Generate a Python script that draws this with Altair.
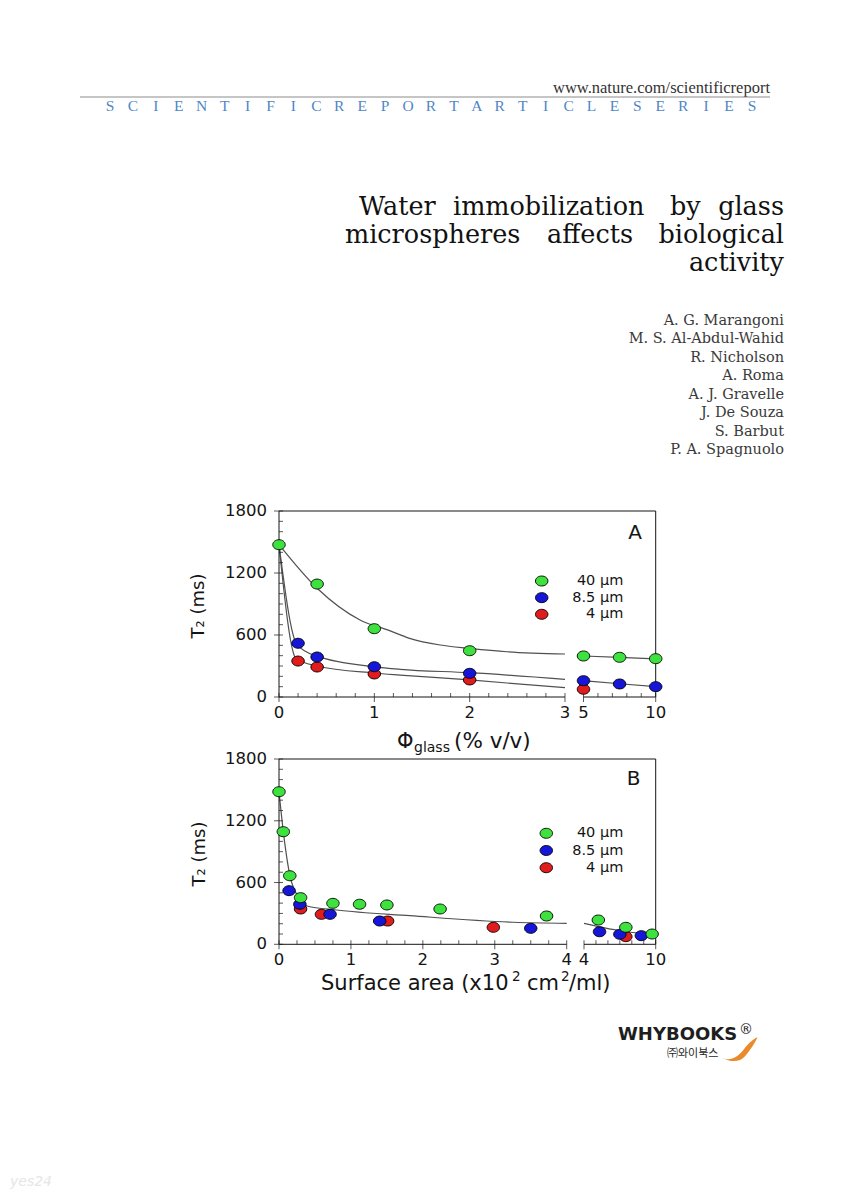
import altair as alt
import pandas as pd

# ---------------- values ----------------
SERIES = ["40 μm", "8.5 μm", "4 μm"]
SERIES_COLORS = ["#3ee23e", "#1616d8", "#e01c1c"]

# Panel A : T2 (ms) vs glass volume fraction (% v/v)
a_green_x = [0, 0.4, 1, 2, 5, 7.5, 10]
a_green_y = [1474, 1093, 661, 448, 397, 384, 371]
a_blue_x = [0.2, 0.4, 1, 2, 5, 7.5, 10]
a_blue_y = [520, 387, 293, 229, 158, 126, 100]
a_red_x = [0.2, 0.4, 1, 2, 5]
a_red_y = [348, 290, 223, 165, 75]

# drawn curves in panel A
a_fit_green_x = [0, 0.4, 0.85, 1.16, 1.37, 1.69, 2.0, 2.39, 3.0, 5, 7.5, 10]
a_fit_green_y = [1474, 1052, 745, 642, 568, 503, 471, 438, 416, 397, 384, 368]
a_fit_blue_x = [0, 0.19, 0.4, 1.0, 1.27, 2.0, 3.0, 5, 7.5, 10]
a_fit_blue_y = [1474, 505, 395, 292, 268, 235, 171, 158, 128, 100]
a_fit_red_x = [0, 0.18, 0.4, 1.0, 1.27, 2.0, 3.0]
a_fit_red_y = [1474, 370, 300, 232, 212, 165, 90]

# Panel B : T2 (ms) vs surface area (x10^2 cm2/ml)
b_green_x = [0, 0.06, 0.15, 0.30, 0.75, 1.12, 1.50, 2.24, 3.72, 5.2, 7.5, 9.7]
b_green_y = [1482, 1094, 666, 453, 398, 389, 382, 343, 275, 236, 165, 100]
b_blue_x = [0.14, 0.29, 0.71, 1.40, 3.50, 5.3, 7.0, 8.8]
b_blue_y = [521, 389, 291, 226, 155, 122, 97, 84]
b_red_x = [0.30, 0.59, 1.51, 2.98, 7.5]
b_red_y = [343, 291, 226, 165, 74]

b_fit_x = [0, 0.06, 0.15, 0.29, 0.39, 0.8, 1.82, 3.26, 4.0, 4.0, 7.6, 10]
b_fit_y = [1482, 1094, 673, 440, 372, 333, 278, 214, 204, 204, 122, 97]
b_fit_part = ["l", "l", "l", "l", "l", "l", "l", "l", "l", "r", "r", "r"]

# axis ticks / labels
Y_TICKS = [0, 600, 1200, 1800]
Y_MINOR = list(range(0, 1801, 100))
A_LEFT_TICKS = [0, 1, 2, 3]
A_LEFT_MINOR = [round(i * 0.2, 2) for i in range(16)]
A_RIGHT_TICKS = [5, 10]
A_RIGHT_MINOR = [5, 6, 7, 8, 9, 10]
B_LEFT_TICKS = [0, 1, 2, 3, 4]
B_LEFT_MINOR = [i * 0.25 for i in range(17)]
B_RIGHT_TICKS = [4, 10]
B_RIGHT_MINOR = [4, 5, 6, 7, 8, 9, 10]

# page texts
URL = "www.nature.com/scientificreport"
SERIES_BANNER = "SCIENTIFICREPORTARTICLESERIES"
AUTHORS = ["A. G. Marangoni", "M. S. Al-Abdul-Wahid", "R. Nicholson", "A. Roma",
           "A. J. Gravelle", "J. De Souza", "S. Barbut", "P. A. Spagnuolo"]

# ---------------- layout ----------------
W, H = 833, 1184          # whole page minus the 8px body margin
def px(v):                # page pixel -> chart pixel
    return v - 8

INK = "#141414"
LINE = "#505050"
SANS = "DejaVu Sans"
SERIF = "DejaVu Serif"
ELL = "M-1,0A1,0.8,0,1,1,1,0A1,0.8,0,1,1,-1,0Z"
color_scale = alt.Scale(domain=SERIES, range=SERIES_COLORS)
one = pd.DataFrame({"a": [0]})


def pts_frame(xs, ys, s):
    return pd.DataFrame({"x": xs, "y": ys, "s": s})


def panel(xdom, xr, yr, pts, fit, xvals, xminor, show_y, top_to=None, right_rule=False):
    xs = alt.Scale(domain=xdom, range=[px(xr[0]), px(xr[1])], nice=False, zero=False)
    ys = alt.Scale(domain=[0, 1800], range=[px(yr[0]), px(yr[1])], nice=False, zero=False)
    X0 = alt.XDatum(xdom[0], type="quantitative", scale=xs, axis=None)
    Y0 = alt.YDatum(0, type="quantitative", scale=ys, axis=None)
    layers = []
    # fitted curves
    layers.append(
        alt.Chart(fit).mark_line(color=LINE, strokeWidth=1.2, interpolate="monotone").encode(
            x=alt.X("x:Q", scale=xs, axis=None),
            y=alt.Y("y:Q", scale=ys, axis=None),
            detail="s:N"))
    # x axis line
    layers.append(alt.Chart(one).mark_rule(color=INK, strokeWidth=1).encode(
        x=X0, x2=alt.X2Datum(xdom[1]), y=Y0))
    # x minor ticks (inward) and major ticks (outward)
    layers.append(
        alt.Chart(pd.DataFrame({"v": xminor})).mark_tick(
            orient="vertical", size=4, thickness=1, color=INK, yOffset=-2).encode(
            x=alt.X("v:Q", scale=xs, axis=None), y=Y0))
    layers.append(
        alt.Chart(pd.DataFrame({"v": xvals})).mark_tick(
            orient="vertical", size=5, thickness=1, color=INK, yOffset=2.5).encode(
            x=alt.X("v:Q", scale=xs, axis=None), y=Y0))
    layers.append(
        alt.Chart(pd.DataFrame({"v": xvals})).mark_text(
            baseline="top", align="center", dy=8, font=SANS, fontSize=16.5, color=INK).encode(
            x=alt.X("v:Q", scale=xs, axis=None), y=Y0,
            text=alt.Text("v:Q", format="d")))
    if show_y:
        layers.append(alt.Chart(one).mark_rule(color=INK, strokeWidth=1).encode(
            x=X0, y=Y0, y2=alt.Y2Datum(1800)))
        layers.append(
            alt.Chart(pd.DataFrame({"v": Y_MINOR})).mark_tick(
                orient="horizontal", size=4, thickness=1, color=INK, xOffset=2).encode(
                x=X0, y=alt.Y("v:Q", scale=ys, axis=None)))
        layers.append(
            alt.Chart(pd.DataFrame({"v": Y_TICKS})).mark_tick(
                orient="horizontal", size=5, thickness=1, color=INK, xOffset=-2.5).encode(
                x=X0, y=alt.Y("v:Q", scale=ys, axis=None)))
        layers.append(
            alt.Chart(pd.DataFrame({"v": Y_TICKS})).mark_text(
                baseline="middle", align="right", dx=-12, font=SANS, fontSize=16.5,
                color=INK).encode(
                x=X0, y=alt.Y("v:Q", scale=ys, axis=None),
                text=alt.Text("v:Q", format="d")))
    if top_to is not None:
        layers.append(
            alt.Chart(one).mark_rule(color=INK, strokeWidth=1).encode(
                x=X0, x2=alt.value(px(top_to)),
                y=alt.YDatum(1800, type="quantitative", scale=ys, axis=None)))
    if right_rule:
        layers.append(
            alt.Chart(one).mark_rule(color=INK, strokeWidth=1).encode(
                x=alt.XDatum(xdom[1], type="quantitative", scale=xs, axis=None),
                y=Y0, y2=alt.Y2Datum(1800)))
    # data points
    layers.append(
        alt.Chart(pts).mark_point(shape=ELL, size=156, filled=True, opacity=1,
                                  stroke="black", strokeWidth=0.9).encode(
            x=alt.X("x:Q", scale=xs, axis=None),
            y=alt.Y("y:Q", scale=ys, axis=None),
            color=alt.Color("s:N", scale=color_scale, legend=None)))
    return alt.layer(*layers)


def legend(xsym, ytop, ybot, xtext):
    df = pd.DataFrame({"s": SERIES, "i": [0, 1, 2]})
    ysc = alt.Scale(domain=[0, 2], range=[px(ytop), px(ybot)], nice=False, zero=False)
    sym = alt.Chart(df).mark_point(shape=ELL, size=156, filled=True, opacity=1,
                                   stroke="black", strokeWidth=0.9).encode(
        x=alt.value(px(xsym)), y=alt.Y("i:Q", scale=ysc, axis=None),
        color=alt.Color("s:N", scale=color_scale, legend=None))
    txt = alt.Chart(df).mark_text(align="right", baseline="middle", font=SANS,
                                  fontSize=14.5, color=INK).encode(
        x=alt.value(px(xtext)), y=alt.Y("i:Q", scale=ysc, axis=None), text="s:N")
    return alt.layer(sym, txt)


def text(t, x, y, size, font=SANS, align="left", baseline="alphabetic", color=INK,
         angle=0, weight="normal", style="normal"):
    return alt.Chart(pd.DataFrame({"t": [t]})).mark_text(
        align=align, baseline=baseline, font=font, fontSize=size, color=color,
        angle=angle, fontWeight=weight, fontStyle=style).encode(
        x=alt.value(px(x)), y=alt.value(px(y)), text="t:N")


# ---------------- data frames ----------------
def split(xs, ys, s, xmax):
    d = pts_frame(xs, ys, s)
    return d[d.x <= xmax], d[d.x > xmax]

a_parts = [split(a_red_x, a_red_y, SERIES[2], 3), split(a_blue_x, a_blue_y, SERIES[1], 3),
           split(a_green_x, a_green_y, SERIES[0], 3)]
a_pts_l = pd.concat([p[0] for p in a_parts])
a_pts_r = pd.concat([p[1] for p in a_parts])
a_fit = pd.concat([pts_frame(a_fit_green_x, a_fit_green_y, "g"),
                   pts_frame(a_fit_blue_x, a_fit_blue_y, "b"),
                   pts_frame(a_fit_red_x, a_fit_red_y, "r")])
a_fit_l = a_fit[a_fit.x <= 3]
a_fit_r = a_fit[a_fit.x >= 5]

b_parts = [split(b_red_x, b_red_y, SERIES[2], 4), split(b_blue_x, b_blue_y, SERIES[1], 4),
           split(b_green_x, b_green_y, SERIES[0], 4)]
b_pts_l = pd.concat([p[0] for p in b_parts])
b_pts_r = pd.concat([p[1] for p in b_parts])
b_fit = pd.DataFrame({"x": b_fit_x, "y": b_fit_y, "s": b_fit_part})
b_fit_l = b_fit[b_fit.s == "l"]
b_fit_r = b_fit[b_fit.s == "r"]

# ---------------- header ----------------
layers = []
layers.append(text(URL, 770, 93, 16.5, font="Liberation Serif", align="right", color="#333333"))
layers.append(alt.Chart(one).mark_rule(color="#8c8c8c", strokeWidth=1).encode(
    x=alt.value(px(80)), x2=alt.value(px(770)), y=alt.value(px(97))))
banner = pd.DataFrame({"c": list(SERIES_BANNER), "i": list(range(len(SERIES_BANNER)))})
layers.append(alt.Chart(banner).mark_text(font="Liberation Serif", fontSize=15.5,
                                          color="#4f86c6", baseline="middle").encode(
    x=alt.X("i:Q", scale=alt.Scale(domain=[0, len(SERIES_BANNER) - 1],
                                   range=[px(110), px(752)], nice=False, zero=False), axis=None),
    y=alt.value(px(106)), text="c:N"))

# title words (justified lines)
title_left = [(359, 215), (453, 215), (670, 215), (345, 243), (547, 243)]
title_words_left = ["Water", "immobilization", "by", "microspheres", "affects"]
for w, (x, y) in zip(title_words_left, title_left):
    layers.append(text(w, x, y, 25.5, font=SERIF, color="#111111"))
for w, y in [("glass", 215), ("biological", 243), ("activity", 271)]:
    layers.append(text(w, 784, y, 25.5, font=SERIF, align="right", color="#111111"))

auth = pd.DataFrame({"n": AUTHORS, "i": list(range(len(AUTHORS)))})
layers.append(alt.Chart(auth).mark_text(font=SERIF, fontSize=14.5, color="#3a3a3a",
                                        align="right", baseline="middle").encode(
    x=alt.value(px(784)),
    y=alt.Y("i:Q", scale=alt.Scale(domain=[0, len(AUTHORS) - 1],
                                   range=[px(320.5), px(450)], nice=False, zero=False), axis=None),
    text="n:N"))

# ---------------- panel A ----------------
layers.append(panel([0, 3], (279, 565), (697, 511), a_pts_l, a_fit_l,
                    A_LEFT_TICKS, A_LEFT_MINOR, True, top_to=655.7))
layers.append(panel([5, 10], (583.5, 655.7), (697, 511), a_pts_r, a_fit_r,
                    A_RIGHT_TICKS, A_RIGHT_MINOR, False, right_rule=True))
layers.append(legend(541.7, 581, 614.3, 623.3))
layers.append(text("A", 635, 532.5, 20, baseline="middle", align="center"))
layers.append(text("T₂ (ms)", 199, 606, 18, align="center", baseline="middle", angle=270))
layers.append(text("Φ", 397, 748, 21))
layers.append(text("glass", 414, 752, 14))
layers.append(text("(% v/v)", 454, 748, 21.5))

# ---------------- panel B ----------------
layers.append(panel([0, 4], (279, 566.7), (944.3, 759), b_pts_l, b_fit_l,
                    B_LEFT_TICKS, B_LEFT_MINOR, True, top_to=655.7))
layers.append(panel([4, 10], (584, 655.7), (944.3, 759), b_pts_r, b_fit_r,
                    B_RIGHT_TICKS, B_RIGHT_MINOR, False, right_rule=True))
layers.append(legend(546.3, 833.3, 867.7, 623.3))
layers.append(text("B", 633.5, 778.5, 20, baseline="middle", align="center"))
layers.append(text("T₂ (ms)", 200, 854, 18, align="center", baseline="middle", angle=270))
layers.append(text("Surface area  (x10", 321, 990, 21))
layers.append(text("2", 512, 981, 13.5))
layers.append(text("cm", 527, 990, 21))
layers.append(text("2", 561, 981, 13.5))
layers.append(text("/ml)", 569, 990, 21))

# ---------------- footer ----------------
layers.append(text("WHYBOOKS", 618, 1040, 18, weight="bold", color="#1e1e1e"))
layers.append(text("®", 746, 1030, 14, align="center", baseline="middle", color="#1e1e1e"))
layers.append(text("㈜와이북스", 667, 1057, 11, font="Noto Sans CJK KR", color="#1e1e1e"))
SWOOSH = ("M-1,0.55C-0.6,0.75,-0.2,0.6,0.2,0.1C0.5,-0.3,0.8,-0.55,1,-0.62"
          "C0.85,-0.3,0.6,0.1,0.3,0.45C0,0.8,-0.5,0.85,-1,0.55Z")
layers.append(alt.Chart(one).mark_point(shape=SWOOSH, size=1225, filled=True, opacity=1,
                                        color="#e98a2c").encode(
    x=alt.value(px(740)), y=alt.value(px(1048))))
layers.append(text("yes24", 10, 1186, 14, style="italic", color="#e6e6e6"))

chart = alt.layer(*layers).resolve_scale(x="independent", y="independent").properties(
    width=W, height=H, padding=0, autosize=alt.AutoSizeParams(type="none"),
    background="white").configure_view(stroke=None)

chart.save("out.html", embed_options={"renderer": "svg", "actions": False})
